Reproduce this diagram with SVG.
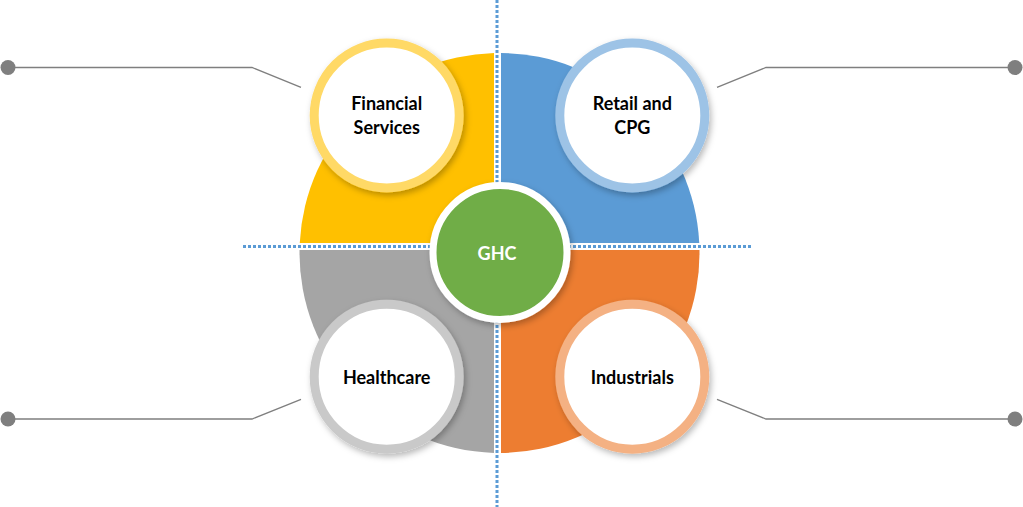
<svg xmlns="http://www.w3.org/2000/svg" width="1023" height="507" viewBox="0 0 1023 507">
  <defs>
    <filter id="sh" x="-20%" y="-20%" width="150%" height="150%">
      <feDropShadow dx="2" dy="3" stdDeviation="3" flood-color="#000" flood-opacity="0.28"/>
    </filter>
  </defs>
  <style>
    .lbl { font-family: Lato, "Open Sans", "Liberation Sans", sans-serif; font-weight: bold; font-size: 18px; fill: #000; text-anchor: middle; }
    .ring { fill: #fff; stroke-width: 9; filter: url(#sh); }
    .dot { stroke: #5B9BD5; stroke-width: 3; stroke-dasharray: 3 2; fill: none; }
    .conn { stroke: #7F7F7F; stroke-width: 1.3; fill: none; }
    .pin { fill: #7F7F7F; }
  </style>
  <rect width="1023" height="507" fill="#fff"/>
  <g id="quadrants">
    <path d="M494,243 V53.1 A200,200 0 0 0 299.75,243 Z" fill="#FFC000"/>
    <path d="M501,243 V53 A200,200 0 0 1 699.25,243 Z" fill="#5B9BD5"/>
    <path d="M494,250 H299.52 A200,200 0 0 0 494,452.9 Z" fill="#A5A5A5"/>
    <path d="M501,250 H699.48 A200,200 0 0 1 501,453 Z" fill="#ED7D31"/>
  </g>
  <g id="axes">
    <line class="dot" x1="497" y1="0" x2="497" y2="507"/>
    <line class="dot" x1="243" y1="246.5" x2="751" y2="246.5"/>
  </g>
  <g id="connectors">
    <polyline class="conn" points="8,67.5 252,67.5 301,87.3"/>
    <circle class="pin" cx="8" cy="67.5" r="7.5"/>
    <polyline class="conn" points="1015,67.5 766,67.5 717,87.3"/>
    <circle class="pin" cx="1015" cy="67.5" r="7.5"/>
    <polyline class="conn" points="8,419 252,419 301,399.3"/>
    <circle class="pin" cx="8" cy="419" r="7.5"/>
    <polyline class="conn" points="1015,419 766,419 717,399.3"/>
    <circle class="pin" cx="1015" cy="419" r="7.5"/>
  </g>
  <g id="ghc">
    <circle cx="500" cy="252.5" r="67" fill="#70AD47" stroke="#fff" stroke-width="7" filter="url(#sh)"/>
    <text class="lbl" x="497" y="260" style="fill:#fff">GHC</text>
  </g>
  <g id="financial">
    <circle class="ring" cx="386.7" cy="115.5" r="72.5" stroke="#FFD966"/>
    <text class="lbl" x="386.7" y="110">Financial</text>
    <text class="lbl" x="386.7" y="134">Services</text>
  </g>
  <g id="retail">
    <circle class="ring" cx="632.3" cy="115.5" r="72.5" stroke="#9DC3E6"/>
    <text class="lbl" x="632.3" y="110">Retail and</text>
    <text class="lbl" x="632.3" y="134">CPG</text>
  </g>
  <g id="healthcare">
    <circle class="ring" cx="386.7" cy="376.7" r="72.5" stroke="#C9C9C9"/>
    <text class="lbl" x="386.7" y="384">Healthcare</text>
  </g>
  <g id="industrials">
    <circle class="ring" cx="632.3" cy="376.7" r="72.5" stroke="#F4B183"/>
    <text class="lbl" x="632.3" y="384">Industrials</text>
  </g>
</svg>
